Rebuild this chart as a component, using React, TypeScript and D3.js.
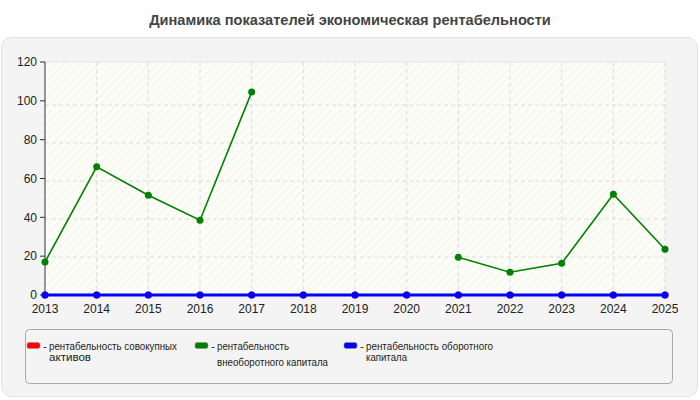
import React from "react";
import * as d3 from "d3";

const years = ["2013","2014","2015","2016","2017","2018","2019","2020","2021","2022","2023","2024","2025"];
const totalAssets: (number|null)[] = [0,0,0,0,0,0,0,0,0,0,0,0,0];
const nonCurrent: (number|null)[] = [17,66,51.4,38.5,104.5,null,null,null,19.4,11.7,16.3,51.9,23.6];
const current: (number|null)[] = [0,0,0,0,0,0,0,0,0,0,0,0,0];
const yTicks = [0,20,40,60,80,100,120];
const title = "Динамика показателей экономическая рентабельности";
const legendItems = [
  { color: "#ff0000", lines: ["рентабельность совокупных", "активов"], widths: [128, 42], gap: 11 },
  { color: "#008000", lines: ["рентабельность", "внеоборотного капитала"], widths: [72, 111], gap: 16 },
  { color: "#0000ff", lines: ["рентабельность оборотного", "капитала"], widths: [127, 41], gap: 11 },
];

const W = 700, H = 400;
const left = 45, right = 665, top = 62, bottom = 295;
const font = "'Liberation Sans', Arial, sans-serif";

export default function App() {
  const x = d3.scalePoint<string>().domain(years).range([left, right]);
  const y = d3.scaleLinear().domain([0, 120]).range([bottom, top]);
  const yGrid = d3.scaleLinear().domain([0, 120]).range([bottom, 67]);
  const line = d3.line<number|null>()
    .defined(d => d !== null)
    .x((_, i) => x(years[i])!)
    .y(d => y(d as number));

  const series = [
    { data: totalAssets, color: "#ff0000", w: 2 },
    { data: nonCurrent, color: "#008000", w: 1.6 },
    { data: current, color: "#0000ff", w: 3 },
  ];

  return (
    <svg width={W} height={H} style={{ position: "absolute", left: 0, top: 0 }} fontFamily={font}>
      <defs>
        <pattern id="hatch" width="6" height="6" patternUnits="userSpaceOnUse" patternTransform="rotate(45)">
          <line x1="0" y1="0" x2="0" y2="6" stroke="#ececec" strokeWidth="1" />
        </pattern>
      </defs>
      <rect x={0} y={0} width={W} height={H} fill="#fff" />
      <text x={350} y={25} textAnchor="middle" fontSize={14.6} fontWeight="bold" fill="#444">{title}</text>
      <rect x={1.5} y={37.5} width={696} height={359} rx={10} fill="#f4f4f4" stroke="#e2e2e2" />
      <rect x={left} y={top} width={right - left} height={bottom - top} fill="#fcfdf6" />
      <rect x={left} y={top} width={right - left} height={bottom - top} fill="url(#hatch)" />
      {yTicks.filter(t => t > 0 && t < 120).map(t => (
        <line key={"hg" + t} x1={left} x2={right} y1={yGrid(t)} y2={yGrid(t)} stroke="#dcdcdc" strokeDasharray="4,3" />
      ))}
      {years.slice(1).map(yr => (
        <line key={"vg" + yr} x1={x(yr)} x2={x(yr)} y1={top} y2={bottom} stroke="#dcdcdc" strokeDasharray="4,3" />
      ))}
      <line x1={left} x2={right} y1={top} y2={top} stroke="#e4e4e4" />
      <line x1={left} x2={left} y1={top} y2={bottom} stroke="#333" />
      {yTicks.map(t => (
        <g key={"yt" + t}>
          <line x1={left - 5} x2={left} y1={y(t)} y2={y(t)} stroke="#333" />
          <text x={left - 8} y={y(t)} dy="0.35em" textAnchor="end" fontSize={12} fill="#222">{t}</text>
        </g>
      ))}
      {years.map(yr => (
        <text key={"xt" + yr} x={x(yr)} y={313} textAnchor="middle" fontSize={12} fill="#222">{yr}</text>
      ))}
      {series.map((s, si) => (
        <g key={"s" + si}>
          <path d={line(s.data) || ""} fill="none" stroke={s.color} strokeWidth={s.w} />
          {s.data.map((v, i) => v === null ? null : (
            <circle key={i} cx={x(years[i])} cy={y(v)} r={3.5} fill={s.color} />
          ))}
        </g>
      ))}
      <rect x={25.5} y={329.5} width={647} height={54} rx={4} fill="#f4f4f4" stroke="#a8a8a8" />
      {legendItems.map((it, i) => {
        const lx = [27, 195, 344][i];
        return (
          <g key={"lg" + i}>
            <rect x={lx} y={342.5} width={13} height={6} rx={2} fill={it.color} stroke="#888" strokeWidth={0.5} />
            <text x={lx + 16} y={350} fontSize={11.5} fill="#222">-</text>
            {it.lines.map((l, j) => (
              <text key={j} x={lx + 22} y={350 + j * it.gap} fontSize={11.5} fill="#222"
                textLength={it.widths[j]} lengthAdjust="spacingAndGlyphs">{l}</text>
            ))}
          </g>
        );
      })}
    </svg>
  );
}
